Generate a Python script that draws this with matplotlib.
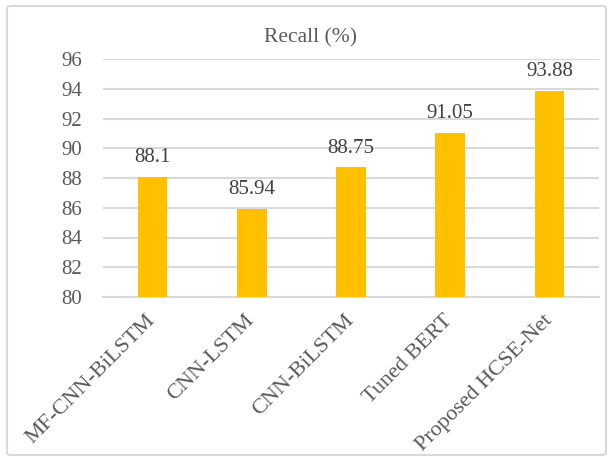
import matplotlib.pyplot as plt
import matplotlib.transforms as mtransforms
from matplotlib.patches import FancyBboxPatch

models = ["MF-CNN-BiLSTM", "CNN-LSTM", "CNN-BiLSTM", "Tuned BERT", "Proposed HCSE-Net"]
recall = [88.1, 85.94, 88.75, 91.05, 93.88]
value_labels = ["88.1", "85.94", "88.75", "91.05", "93.88"]
yticks = [80, 82, 84, 86, 88, 90, 92, 94, 96]

plt.rcParams['font.family'] = ['Liberation Serif', 'DejaVu Serif']

fig = plt.figure(figsize=(6.12, 4.57), dpi=100)
fig.patch.set_facecolor('white')

# outer frame around the chart
frame = FancyBboxPatch((7 / 612, 2 / 457), 599 / 612, 449 / 457,
                       boxstyle="round,pad=0,rounding_size=0.006",
                       transform=fig.transFigure, facecolor='none',
                       edgecolor='#d9d9d9', linewidth=1.5, zorder=-1)
fig.patches.append(frame)

ax = fig.add_axes([103 / 612, 1 - 297 / 457, 496 / 612, (297 - 59) / 457])
ax.set_facecolor('none')

x = range(len(models))
ax.bar(x, recall, width=0.30, color='#FFC000', zorder=3)

for xi, v, lab in zip(x, recall, value_labels):
    ax.annotate(lab, (xi, v), xytext=(0, 10.3), textcoords='offset points',
                ha='center', va='baseline', fontsize=15, color='#404040')

ax.set_ylim(80, 96)
ax.set_xlim(-0.5, len(models) - 0.5)
ax.set_yticks(yticks)
ax.set_yticklabels([str(t) for t in yticks], fontsize=15, color='#595959')
ax.yaxis.grid(True, color='#d9d9d9', linewidth=1.5, zorder=0)
ax.set_axisbelow(True)
ax.tick_params(axis='y', length=0, pad=15)
ax.tick_params(axis='x', length=0, pad=10)
ax.set_xticks(list(x))
ax.set_xticklabels(models, rotation=45, ha='right', rotation_mode='anchor',
                   fontsize=16, color='#595959')

# nudge the slanted category labels slightly to the left
shift = mtransforms.ScaledTranslation(-5 / 72, 0, fig.dpi_scale_trans)
for lbl in ax.get_xticklabels():
    lbl.set_transform(lbl.get_transform() + shift)

for side in ['top', 'right', 'left']:
    ax.spines[side].set_visible(False)
ax.spines['bottom'].set_color('#d9d9d9')
ax.spines['bottom'].set_linewidth(1.5)

fig.text(311 / 612, 1 - 38 / 457, "Recall (%)", ha='center', va='center',
         fontsize=15.5, color='#595959')

fig.savefig('out.png', dpi=100)
